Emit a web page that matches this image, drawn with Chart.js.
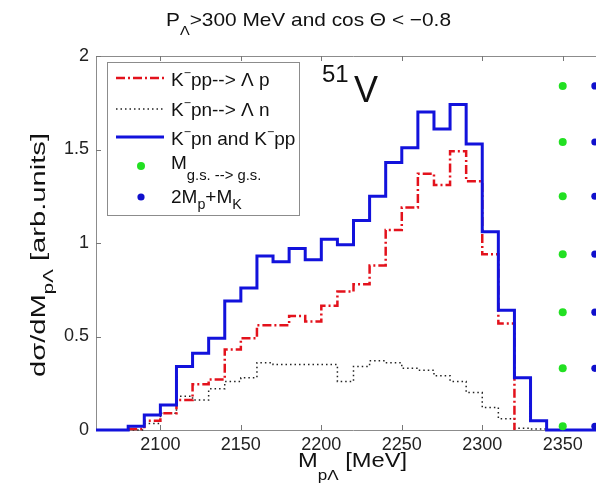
<!DOCTYPE html>
<html>
<head>
<meta charset="utf-8">
<script src="https://cdn.jsdelivr.net/npm/chart.js@4.4.1/dist/chart.umd.min.js"></script>
<style>
  html, body { margin: 0; padding: 0; background: #fff; overflow: hidden; }
  #wrap { width: 596px; height: 492px; overflow: hidden; }
</style>
</head>
<body>
<div id="wrap"><canvas id="chart" width="620" height="492"></canvas></div>
<script>
const FONT = '"Liberation Sans", Arial, Helvetica, sans-serif';

// bin edges (MeV), each value holds from its edge to the next one
const binEdges = [2060, 2070, 2080, 2090, 2100, 2110, 2120, 2130, 2140, 2150, 2160,
  2170, 2180, 2190, 2200, 2210, 2220, 2230, 2240, 2250, 2260, 2270, 2280, 2290,
  2300, 2310, 2320, 2330, 2340, 2350, 2360, 2370, 2380];

// K-pn and K-pp (sum)
const sumValues = [0, 0, 0.02, 0.08, 0.134, 0.34, 0.41, 0.49, 0.69, 0.76, 0.93,
  0.90, 0.97, 0.91, 1.02, 0.99, 1.12, 1.25, 1.43, 1.51, 1.70, 1.61, 1.74, 1.53,
  1.06, 0.64, 0.28, 0.05, 0, 0, 0, 0, 0];

// K-pp --> Lambda p
const ppValues = [null, null, 0.005, 0.05, 0.09, 0.16, 0.245, 0.27, 0.43, 0.49, 0.56,
  0.56, 0.61, 0.58, 0.665, 0.74, 0.78, 0.88, 1.07, 1.19, 1.37, 1.31, 1.49, 1.33,
  0.94, 0.57, 0, null, null, null, null, null, null];

// K-pn --> Lambda n
const pnValues = [null, null, 0, 0.035, 0.09, 0.18, 0.16, 0.22, 0.26, 0.28, 0.36,
  0.35, 0.35, 0.35, 0.35, 0.26, 0.34, 0.37, 0.36, 0.33, 0.32, 0.29, 0.26, 0.20,
  0.12, 0.06, 0.01, 0.005, 0, null, null, null, null];

// vertical marker dots
const gsMass = 2350;        // M g.s. --> g.s.
const thresholdMass = 2370; // 2Mp + MK
const dotLevels = [0.02, 0.33, 0.63, 0.94, 1.25, 1.54, 1.84];

const xTicks = [2100, 2150, 2200, 2250, 2300, 2350];
const yTicks = [0, 0.5, 1, 1.5, 2];

const BLUE = '#1212dc';
const RED = '#e3121c';
const GREEN = '#22e022';
const DOT_BLUE = '#1010cc';

function toPoints(vals) {
  return binEdges.map((x, i) => ({ x: x, y: vals[i] }));
}

// draws text with sub/superscripts, optionally stretched to a width
function richText(ctx, parts, x, y, size, opts) {
  opts = opts || {};
  const small = size * (opts.subScale || 0.7);
  const segs = parts.map(([t, k]) => {
    const s = k ? small : size;
    ctx.font = s + 'px ' + FONT;
    return { t: t, k: k, s: s, w: ctx.measureText(t).width };
  });
  const natural = segs.reduce((a, g) => a + g.w, 0);
  const sx = opts.width ? opts.width / natural : 1;
  ctx.save();
  ctx.translate(x, y);
  if (opts.rotate) ctx.rotate(opts.rotate);
  ctx.scale(sx, 1);
  let cx = opts.align === 'center' ? -natural / 2 : 0;
  ctx.fillStyle = opts.color || '#111';
  ctx.textAlign = 'left';
  ctx.textBaseline = 'alphabetic';
  segs.forEach(g => {
    ctx.font = g.s + 'px ' + FONT;
    let dy = 0;
    if (g.k === 'sub') dy = opts.subDrop != null ? opts.subDrop : size * 0.45;
    if (g.k === 'sup') dy = -(opts.supRise != null ? opts.supRise : size * 0.45);
    ctx.fillText(g.t, cx, dy);
    cx += g.w;
  });
  ctx.restore();
}

const matlabFrame = {
  id: 'matlabFrame',
  beforeDatasetsDraw(chart) {
    const { ctx, chartArea: a, scales } = chart;
    ctx.save();
    ctx.strokeStyle = '#8c8c8c';
    ctx.lineWidth = 1;
    ctx.beginPath();
    ctx.moveTo(a.left + 0.5, a.bottom);
    ctx.lineTo(a.left + 0.5, a.top + 0.5);
    ctx.lineTo(a.right, a.top + 0.5);
    ctx.moveTo(a.left, a.bottom + 0.5);
    ctx.lineTo(a.right, a.bottom + 0.5);
    ctx.stroke();
    ctx.strokeStyle = '#777';
    ctx.beginPath();
    xTicks.forEach(v => {
      const px = Math.round(scales.x.getPixelForValue(v)) + 0.5;
      ctx.moveTo(px, a.bottom);
      ctx.lineTo(px, a.bottom - 5);
      ctx.moveTo(px, a.top);
      ctx.lineTo(px, a.top + 5);
    });
    yTicks.forEach(v => {
      const py = Math.round(scales.y.getPixelForValue(v)) + 0.5;
      ctx.moveTo(a.left, py);
      ctx.lineTo(a.left + 5, py);
    });
    ctx.stroke();
    ctx.restore();
  },
  afterDraw(chart) {
    const ctx = chart.ctx;

    richText(ctx, [['P', ''], ['\u039B', 'sub'], ['>300 MeV and cos \u0398 < \u22120.8', '']],
      166, 26, 19, { width: 285, subDrop: 9, subScale: 0.7 });

    richText(ctx, [['M', ''], ['p\u039B', 'sub'], [' [MeV]', '']],
      298, 467, 21, { width: 109, subDrop: 13, subScale: 0.72 });

    richText(ctx, [['d\u03C3/dM', ''], ['p\u039B', 'sub'], [' [arb.units]', '']],
      45, 255, 20, { width: 244, subDrop: 8, subScale: 0.7, align: 'center', rotate: -Math.PI / 2 });

    // nucleus label
    ctx.save();
    ctx.fillStyle = '#111';
    ctx.font = '24px ' + FONT;
    ctx.fillText('51', 322, 82);
    ctx.font = '36px ' + FONT;
    ctx.fillText('V', 354, 102);
    ctx.restore();

    // legend box
    ctx.save();
    ctx.fillStyle = '#fff';
    ctx.fillRect(107, 62, 192, 153);
    ctx.strokeStyle = '#8c8c8c';
    ctx.lineWidth = 1;
    ctx.strokeRect(107.5, 62.5, 192, 153);

    ctx.lineWidth = 2.5;
    ctx.strokeStyle = RED;
    ctx.setLineDash([9, 3, 2, 3]);
    ctx.beginPath(); ctx.moveTo(116, 78); ctx.lineTo(164, 78); ctx.stroke();
    ctx.lineWidth = 1.5;
    ctx.strokeStyle = '#222';
    ctx.setLineDash([1.5, 3]);
    ctx.beginPath(); ctx.moveTo(116, 109); ctx.lineTo(164, 109); ctx.stroke();
    ctx.lineWidth = 3;
    ctx.strokeStyle = BLUE;
    ctx.setLineDash([]);
    ctx.beginPath(); ctx.moveTo(116, 137); ctx.lineTo(164, 137); ctx.stroke();
    ctx.fillStyle = GREEN;
    ctx.beginPath(); ctx.arc(141, 166, 4, 0, Math.PI * 2); ctx.fill();
    ctx.fillStyle = DOT_BLUE;
    ctx.beginPath(); ctx.arc(141, 197, 3.6, 0, Math.PI * 2); ctx.fill();
    ctx.restore();

    const sup = { subScale: 0.65, supRise: 9 };
    richText(ctx, [['K', ''], ['\u2212', 'sup'], ['pp--> \u039B p', '']], 171, 86, 19, sup);
    richText(ctx, [['K', ''], ['\u2212', 'sup'], ['pn--> \u039B n', '']], 171, 116, 19, sup);
    richText(ctx, [['K', ''], ['\u2212', 'sup'], ['pn and K', ''], ['\u2212', 'sup'], ['pp', '']], 171, 145, 19, sup);
    richText(ctx, [['M', ''], ['g.s. --> g.s.', 'sub']], 171, 169, 19, { subScale: 0.78, subDrop: 11 });
    richText(ctx, [['2M', ''], ['p', 'sub'], ['+M', ''], ['K', 'sub']], 171, 203, 19, { subScale: 0.75, subDrop: 6 });
  }
};

const tickFont = { family: FONT, size: 18 };

new Chart(document.getElementById('chart'), {
  type: 'line',
  data: {
    datasets: [
      {
        label: 'K-pn and K-pp',
        data: toPoints(sumValues),
        borderColor: BLUE,
        borderWidth: 3,
        stepped: true,
        pointRadius: 0,
        clip: false,
        order: 1
      },
      {
        label: 'K-pp --> Lambda p',
        data: toPoints(ppValues),
        borderColor: RED,
        borderWidth: 2.5,
        borderDash: [9, 3, 2, 3],
        stepped: true,
        pointRadius: 0,
        clip: false,
        order: 2
      },
      {
        label: 'K-pn --> Lambda n',
        data: toPoints(pnValues),
        borderColor: '#222',
        borderWidth: 1.5,
        borderDash: [1.5, 3],
        stepped: true,
        pointRadius: 0,
        clip: false,
        order: 3
      },
      {
        label: 'M g.s. --> g.s.',
        data: dotLevels.map(v => ({ x: gsMass, y: v })),
        showLine: false,
        pointRadius: 4,
        pointBackgroundColor: GREEN,
        pointBorderWidth: 0,
        clip: false,
        order: 0
      },
      {
        label: '2Mp+MK',
        data: dotLevels.map(v => ({ x: thresholdMass, y: v })),
        showLine: false,
        pointRadius: 3.6,
        pointBackgroundColor: DOT_BLUE,
        pointBorderWidth: 0,
        clip: false,
        order: 0
      }
    ]
  },
  options: {
    responsive: false,
    animation: false,
    events: [],
    layout: { padding: { left: 0, right: 9, top: 56, bottom: 0 } },
    plugins: {
      legend: { display: false },
      title: { display: false },
      tooltip: { enabled: false }
    },
    scales: {
      x: {
        type: 'linear',
        min: 2060,
        max: 2380,
        grid: { display: false, drawTicks: false },
        border: { display: false },
        ticks: { font: tickFont, color: '#222', padding: 4, maxRotation: 0, callback: v => String(v) },
        afterBuildTicks: s => { s.ticks = xTicks.map(v => ({ value: v })); },
        afterFit: s => { s.height = 62; }
      },
      y: {
        min: 0,
        max: 2,
        grid: { display: false, drawTicks: false },
        border: { display: false },
        ticks: { font: tickFont, color: '#222', padding: 7, callback: v => String(v) },
        afterBuildTicks: s => { s.ticks = yTicks.map(v => ({ value: v })); },
        afterFit: s => { s.height = undefined; s.width = 96; }
      }
    }
  },
  plugins: [matlabFrame]
});
</script>
</body>
</html>
